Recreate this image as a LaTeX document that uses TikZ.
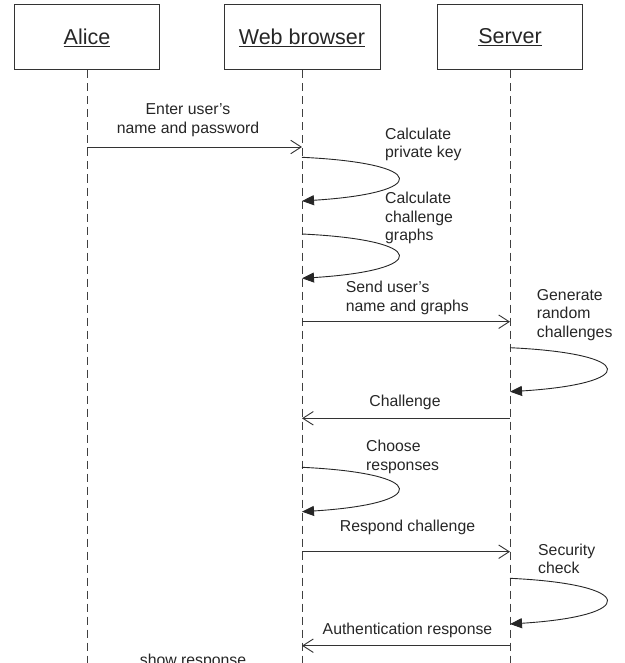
\documentclass[tikz,border=0pt]{standalone}
\usepackage{fontspec}
\setmainfont{Liberation Sans}
\usetikzlibrary{%
	arrows.meta,%
	calc%
}
\tikzset{
	actor/.style={draw=black!80,line width=1pt,minimum width=145pt,minimum height=65pt,
		font=\fontsize{21.5}{24}\selectfont,text=black!85},
	lifeline/.style={draw=black!75,line width=.9pt,dash pattern=on 8pt off 5pt},
	msg/.style={draw=black!80,line width=.9pt,-{Straight Barb[length=10.5pt,width=13.5pt]}},
	selfmsg/.style={draw=black!85,line width=.9pt,-{Triangle[length=12pt,width=10pt]}},
	lbl/.style={font=\fontsize{15.8}{18.6}\selectfont,text=black!85,inner sep=0pt}
}

\begin{document}
\begin{tikzpicture}[x=1pt,y=-1pt]
			\useasboundingbox (0,0) rectangle (624,663);
			\clip (0,0) rectangle (624,663);
			\node[actor] (alice) at (87,37.5) {\underline{Alice}};
			\node[actor,minimum width=156pt] (browser) at (302,37.5) {\underline{Web browser}};
			\node[actor] (server) at (510,37.5) {\underline{Server}};
			%
			\coordinate (alice-end) at (alice |- 0,670);
			\coordinate (browser-end) at (browser |- 0,670);
			\coordinate (server-end) at (server |- 0,670);
			\draw[lifeline] (alice) -- (alice-end)
			(browser) -- (browser-end)
			(server) -- (server-end);
			%
			\coordinate (enter-a) at (alice |- 0,147);
			\coordinate (enter-b) at (browser |- 0,147);
			\coordinate (key-s) at (browser |- 0,157.3);
			\coordinate (key-e) at (browser |- 0,201);
			\coordinate (graphs-s) at (browser |- 0,234);
			\coordinate (graphs-e) at (browser |- 0,278.3);
			\coordinate (send-b) at (browser |- 0,321.7);
			\coordinate (send-s) at (server |- 0,321.7);
			\coordinate (gen-s) at (server |- 0,347.7);
			\coordinate (gen-e) at (server |- 0,391.7);
			\coordinate (chal-s) at (server |- 0,418.3);
			\coordinate (chal-b) at (browser |- 0,418.3);
			\coordinate (choose-s) at (browser |- 0,467.3);
			\coordinate (choose-e) at (browser |- 0,511.7);
			\coordinate (resp-b) at (browser |- 0,551.7);
			\coordinate (resp-s) at (server |- 0,551.7);
			\coordinate (check-s) at (server |- 0,578.3);
			\coordinate (check-e) at (server |- 0,624);
			\coordinate (auth-s) at (server |- 0,645.7);
			\coordinate (auth-b) at (browser |- 0,645.7);
			%
			\draw[msg] (enter-a) -- (enter-b);
			\draw[msg] (send-b) -- (send-s);
			\draw[msg] (chal-s) -- (chal-b);
			\draw[msg] (resp-b) -- (resp-s);
			\draw[msg] (auth-s) -- (auth-b);
			\draw[selfmsg] (key-s) .. controls +(128,6) and +(128,-8) .. (key-e);
			\draw[selfmsg] (graphs-s) .. controls +(128,6) and +(128,-8) .. (graphs-e);
			\draw[selfmsg] (gen-s) .. controls +(128,6) and +(128,-8) .. (gen-e);
			\draw[selfmsg] (choose-s) .. controls +(128,6) and +(128,-8) .. (choose-e);
			\draw[selfmsg] (check-s) .. controls +(128,6) and +(128,-8) .. (check-e);
			%
			\node[lbl,align=center] (enter) at (188,120) {Enter user's\\name and password};
			\node[lbl,align=left,anchor=west] (key) at (385,144.5) {Calculate\\private key};
			\node[lbl,align=left,anchor=west] (graphs) at (385,218.3) {Calculate\\challenge\\graphs};
			\node[lbl,align=left,anchor=west] (send) at (345.7,298) {Send user's\\name and graphs};
			\node[lbl,align=left,anchor=west] (gen) at (536.7,315) {Generate\\random\\challenges};
			\node[lbl] (chal) at (405,402.7) {Challenge};
			\node[lbl,align=left,anchor=west] (choose) at (366,456.8) {Choose\\responses};
			\node[lbl] (resp) at (407.5,527.3) {Respond challenge};
			\node[lbl,align=left,anchor=west] (check) at (538,559) {Security\\check};
			\node[lbl] (auth) at (407.5,630.7) {Authentication response};
			\node[lbl] (show) at (193,661) {show response};
		\end{tikzpicture}
\end{document}
